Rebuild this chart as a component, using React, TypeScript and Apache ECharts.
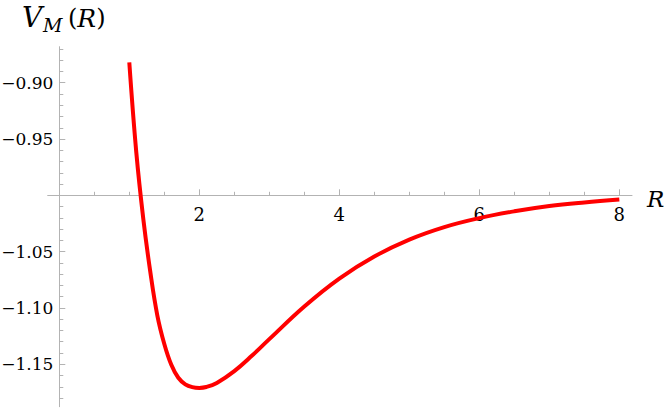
import React, { useEffect, useRef } from "react";
import * as echarts from "echarts";

// Curve samples (R, V_M(R))
const R_VALUES = [1.0, 1.1, 1.2, 1.3, 1.4, 1.5, 1.6, 1.7, 1.8, 1.9, 2.0, 2.1, 2.25, 2.5, 2.75, 3.0, 3.5, 4.0, 4.5, 5.0, 5.5, 6.0, 6.5, 7.0, 7.5, 8.0];
const V_VALUES = [-0.882, -0.962, -1.021, -1.068, -1.1065, -1.132, -1.1505, -1.162, -1.1678, -1.1703, -1.171, -1.1702, -1.1666, -1.1561, -1.1425, -1.1277, -1.0987, -1.0739, -1.0543, -1.0393, -1.0282, -1.0202, -1.0142, -1.0095, -1.0063, -1.0038];

const X_MAJOR_TICKS = [2, 4, 6, 8];
const X_MINOR_TICKS = [0.5, 1, 1.5, 2.5, 3, 3.5, 4.5, 5, 5.5, 6.5, 7, 7.5];
const Y_LABELS = [-1.15, -1.1, -1.05, -0.95, -0.9];
const Y_MAJOR_TICKS = [-1.15, -1.1, -1.05, -1.0, -0.95, -0.9];
const Y_MINOR_TICKS = [-1.18, -1.17, -1.16, -1.14, -1.13, -1.12, -1.11, -1.09, -1.08, -1.07, -1.06, -1.04, -1.03, -1.02, -1.01, -0.99, -0.98, -0.97, -0.96, -0.94, -0.93, -0.92, -0.91, -0.89, -0.88, -0.87];

const X_MIN = -0.1657;
const X_MAX = 8.181;
const Y_MIN = -1.1877;
const Y_MAX = -0.868;

const AXIS_COLOR = "#b3b3b3";
const FONT = "DejaVu Serif";

export default function App() {
  const ref = useRef<HTMLDivElement>(null);
  useEffect(() => {
    if (!ref.current) return;
    const chart = echarts.init(ref.current, undefined, { renderer: "svg" });
    const xOffset = -211.4;
    const yOffset = -11.6;
    const option: any = {
      animation: false,
      grid: { left: 47.7, top: 46.7, width: 584.3, height: 360, outerBoundsMode: "none" },
      xAxis: [
        {
          type: "value",
          min: X_MIN,
          max: X_MAX,
          position: "bottom",
          offset: xOffset,
          axisLine: { show: true, onZero: false, lineStyle: { color: AXIS_COLOR, width: 1 } },
          axisTick: { show: true, inside: true, length: 6, customValues: X_MAJOR_TICKS, lineStyle: { color: AXIS_COLOR } },
          axisLabel: {
            show: true,
            customValues: X_MAJOR_TICKS,
            margin: 10,
            fontFamily: FONT,
            fontSize: 18,
            color: "#000",
            formatter: (v: number) => String(v),
          },
          splitLine: { show: false },
        },
        {
          type: "value",
          min: X_MIN,
          max: X_MAX,
          position: "bottom",
          offset: xOffset,
          axisLine: { show: false, onZero: false },
          axisTick: { show: true, inside: true, length: 3.5, customValues: X_MINOR_TICKS, lineStyle: { color: AXIS_COLOR } },
          axisLabel: { show: false },
          splitLine: { show: false },
        },
      ],
      yAxis: [
        {
          type: "value",
          min: Y_MIN,
          max: Y_MAX,
          position: "left",
          offset: yOffset,
          axisLine: { show: true, onZero: false, lineStyle: { color: AXIS_COLOR, width: 1 } },
          axisTick: { show: true, inside: true, length: 6, customValues: Y_MAJOR_TICKS, lineStyle: { color: AXIS_COLOR } },
          axisLabel: {
            show: true,
            customValues: Y_LABELS,
            margin: 6,
            fontFamily: FONT,
            fontSize: 17,
            color: "#000",
            formatter: (v: number) => (v < 0 ? "\u2212" : "") + Math.abs(v).toFixed(2),
          },
          splitLine: { show: false },
        },
        {
          type: "value",
          min: Y_MIN,
          max: Y_MAX,
          position: "left",
          offset: yOffset,
          axisLine: { show: false, onZero: false },
          axisTick: { show: true, inside: true, length: 4, customValues: Y_MINOR_TICKS, lineStyle: { color: AXIS_COLOR } },
          axisLabel: { show: false },
          splitLine: { show: false },
        },
      ],
      series: [
        {
          type: "line",
          xAxisIndex: 0,
          yAxisIndex: 0,
          data: R_VALUES.map((r, i) => [r, V_VALUES[i]]),
          showSymbol: false,
          symbol: "none",
          smooth: 0.4,
          clip: false,
          lineStyle: { color: "#ff0000", width: 4 },
        },
      ],
      graphic: [
        {
          type: "text",
          x: 22,
          y: 17,
          style: { text: "V", fontFamily: FONT, fontStyle: "italic", fontSize: 28, fill: "#000", verticalAlign: "middle" },
        },
        {
          type: "text",
          x: 43,
          y: 25,
          style: { text: "M", fontFamily: FONT, fontStyle: "italic", fontSize: 19, fill: "#000", verticalAlign: "middle" },
        },
        {
          type: "text",
          x: 68,
          y: 18,
          style: {
            text: "{p|(}{r|R}{p|)}",
            verticalAlign: "middle",
            rich: {
              p: { fontFamily: FONT, fontSize: 24, fill: "#000", color: "#000" },
              r: { fontFamily: FONT, fontStyle: "italic", fontSize: 25, fill: "#000", color: "#000" },
            },
          },
        },
        {
          type: "text",
          x: 647,
          y: 198.5,
          style: { text: "R", fontFamily: FONT, fontStyle: "italic", fontSize: 23, fill: "#000", verticalAlign: "middle" },
        },
      ],
    };
    chart.setOption(option);
    return () => chart.dispose();
  }, []);
  return (
    <div
      ref={ref}
      style={{ position: "absolute", left: 0, top: 0, width: 670, height: 412, background: "#fff" }}
    />
  );
}
